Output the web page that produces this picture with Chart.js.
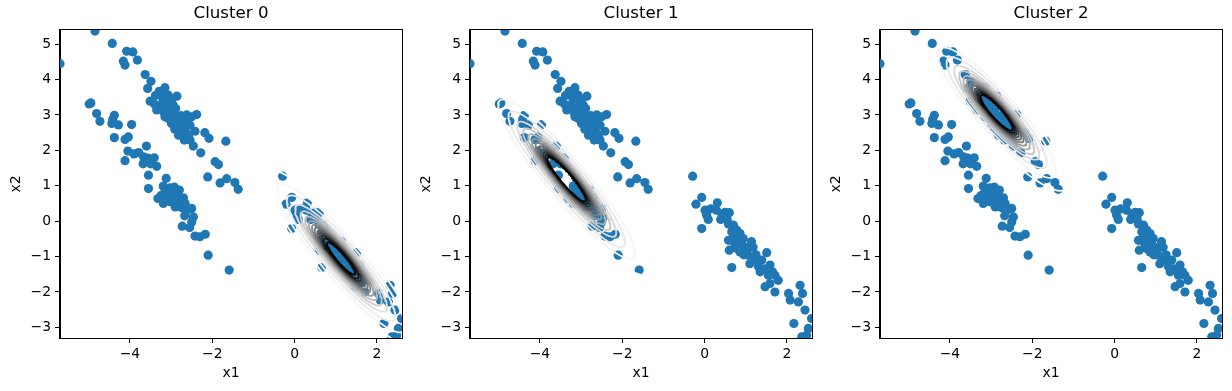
<!DOCTYPE html>
<html>
<head>
<meta charset="UTF-8">
<title>Cluster 0 / 1 / 2</title>
<script src="https://cdn.jsdelivr.net/npm/chart.js"></script>
<style>
    body { margin: 0; background: #fff; }
    .panel { position: absolute; top: 0; width: 410px; height: 391px; }
</style>
</head>
<body>
<div class="panel" style="left:0px"><canvas id="c0" width="410" height="391"></canvas></div>
<div class="panel" style="left:410px"><canvas id="c1" width="410" height="391"></canvas></div>
<div class="panel" style="left:820px"><canvas id="c2" width="410" height="391"></canvas></div>
<script>
const upperBand = [
    [-4.85,5.37],[-4.43,5.02],[-5.70,4.45],[-4.08,4.80],[-3.93,4.78],[-4.16,4.52],[-4.12,4.41],[-3.82,4.55],
    [-3.63,4.14],[-3.49,3.95],[-3.57,3.75],[-3.29,3.67],[-3.15,3.77],[-3.07,3.56],[-2.86,3.53],[-3.51,3.39],
    [-3.35,3.14],[-3.25,3.28],[-3.17,3.07],[-3.07,3.23],[-2.95,3.28],[-3.15,2.95],[-2.95,3.04],[-2.86,2.90],
    [-2.76,2.98],[-2.62,3.00],[-2.38,3.01],[-2.99,2.76],[-2.91,2.60],[-2.78,2.67],[-2.68,2.69],[-2.82,2.43],
    [-2.68,2.29],[-2.54,2.29],[-2.42,2.54],[-2.46,2.12],[-2.28,1.93],[-2.18,2.50],[-2.08,2.34],[-1.67,2.26],
    [-1.93,1.68],[-1.85,1.60],[-2.11,1.25],[-1.81,1.08],[-1.65,1.20],[-1.45,1.09],[-1.37,0.90],[-3.23,3.56],
    [-3.03,3.39],[-2.89,3.18],[-2.66,2.85],[-3.07,2.90],[-2.54,2.71],[-2.62,2.48],[-3.20,3.45],[-3.38,3.55],
    [-2.98,3.45],[-3.10,3.10],[-2.80,2.80],[-2.72,2.55],[-2.95,2.85],[-3.40,3.30],[-2.50,2.95],[-2.58,2.40]
];
const lowerBand = [
    [-4.99,3.31],[-4.95,3.34],[-4.81,3.04],[-4.73,2.82],[-4.38,2.99],[-4.42,2.87],[-4.44,2.76],[-4.28,2.72],
    [-3.96,2.73],[-4.38,2.36],[-4.12,2.31],[-4.04,2.38],[-4.05,1.98],[-3.90,1.90],[-3.79,1.94],[-3.60,2.12],
    [-4.12,1.71],[-3.67,1.82],[-3.56,1.78],[-3.41,1.79],[-3.68,1.62],[-3.50,1.62],[-3.35,1.55],[-3.55,1.30],
    [-3.55,0.92],[-3.12,1.21],[-3.19,0.99],[-3.03,0.94],[-2.92,0.96],[-2.80,0.88],[-3.32,0.64],[-3.19,0.50],
    [-3.07,0.69],[-2.95,0.64],[-2.88,0.48],[-2.70,0.66],[-2.66,0.50],[-2.74,0.38],[-2.50,0.36],[-2.67,0.15],
    [-2.46,0.12],[-2.50,-0.02],[-2.73,-0.14],[-2.55,-0.18],[-2.42,-0.42],[-2.30,-0.44],[-2.17,-0.37],[-2.10,-0.96],
    [-1.59,-1.38],[-2.99,0.78],[-2.82,0.59],[-3.03,0.55],[-2.62,0.31],[-2.90,0.40],[-3.15,0.83],[-3.08,0.80],
    [-2.86,0.72],[-3.25,0.72],[-2.95,0.52],[-3.10,0.60]
];
const rightBand = [
    [-0.29,1.27],[-0.07,0.67],[-0.21,0.48],[0.01,0.31],[0.05,0.17],[0.09,0.05],[-0.07,-0.21],[0.31,0.52],
    [0.29,0.31],[0.42,0.20],[0.50,0.25],[0.60,0.24],[0.39,0.05],[0.58,-0.08],[0.70,-0.11],[0.78,-0.25],
    [0.86,-0.35],[0.70,-0.44],[0.58,-0.54],[0.82,-0.54],[0.94,-0.49],[0.60,-0.82],[0.78,-0.77],[0.86,-0.87],
    [0.98,-0.74],[1.14,-0.58],[1.18,-0.74],[1.06,-0.96],[1.22,-1.10],[1.31,-1.29],[1.39,-1.10],[1.51,-0.89],
    [1.35,-1.43],[1.59,-1.24],[1.65,-1.43],[1.79,-1.67],[1.71,-1.53],[1.55,-1.53],[1.47,-1.85],[1.59,-1.76],
    [1.71,-2.00],[0.66,-1.31],[2.04,-2.04],[2.08,-2.23],[2.28,-2.28],[2.32,-1.81],[2.38,-2.04],[2.44,-2.51],
    [2.17,-2.89],[2.52,-3.03],[2.60,-2.75],[2.36,-3.27],[2.48,-3.22],[0.72,-0.20],[0.80,-0.40],[0.66,-0.30],
    [0.90,-0.62],[1.02,-0.85],[0.74,-0.65],[1.25,-0.95],[1.10,-1.20],[0.95,-0.95],[1.45,-1.35],[0.55,0.05],
    [0.15,0.35]
];

// fitted gaussian per cluster: mean and covariance [sxx, sxy, syy]
const clusterTitles = ['Cluster 0', 'Cluster 1', 'Cluster 2'];
const clusterMeans = [[1.13, -1.05], [-3.35, 1.185], [-2.865, 3.065]];
const clusterCovs = [[0.703, -0.869, 1.275], [0.811, -1.019, 1.483], [0.600, -0.692, 0.988]];
// contour levels as fraction of each cluster's peak density
const clusterLevels = [
    [0.085, 0.18, 0.29, 0.41, 0.50, 0.58, 0.645, 0.70, 0.745, 0.785, 0.82, 0.85, 0.88, 0.92],
    [0.085, 0.18, 0.29, 0.41, 0.50, 0.58, 0.645, 0.70, 0.745, 0.785, 0.82, 0.85, 0.875],
    [0.085, 0.18, 0.29, 0.41, 0.50, 0.58, 0.645, 0.70, 0.745, 0.785, 0.82, 0.85, 0.88]
];

const xRange = [-5.70, 2.61];
const yRange = [-3.30, 5.40];
const xTicks = [-4, -2, 0, 2];
const yTicks = [-3, -2, -1, 0, 1, 2, 3, 4, 5];

// matplotlib 'Greys' colormap
const greys = [255, 240, 217, 189, 150, 115, 82, 37, 0];
function greyColor(t) {
    const p = t * (greys.length - 1);
    const i = Math.min(Math.floor(p), greys.length - 2);
    const v = Math.round(greys[i] + (greys[i + 1] - greys[i]) * (p - i));
    return 'rgb(' + v + ',' + v + ',' + v + ')';
}

// contour of a 2d gaussian at a given fraction of its peak is an ellipse
function contourLine(mean, cov, frac) {
    const a = cov[0], b = cov[1], c = cov[2];
    const m = (a + c) / 2;
    const d = Math.sqrt(((a - c) / 2) ** 2 + b * b);
    const l1 = m + d, l2 = m - d;
    let ex = b, ey = l1 - a;
    const n = Math.hypot(ex, ey);
    ex /= n; ey /= n;
    const r = Math.sqrt(-2 * Math.log(frac));
    const pts = [];
    for (let k = 0; k <= 160; k++) {
        const t = k / 160 * 2 * Math.PI;
        const u = r * Math.sqrt(l1) * Math.cos(t);
        const v = r * Math.sqrt(l2) * Math.sin(t);
        pts.push({ x: mean[0] + u * ex - v * ey, y: mean[1] + u * ey + v * ex });
    }
    return pts;
}

const allPoints = upperBand.concat(lowerBand, rightBand).map(p => ({ x: p[0], y: p[1] }));
const fmt = v => String(v).replace('-', '\u2212');
const FONT = 'DejaVu Sans';

const framePlugin = {
    id: 'frame',
    afterDatasetsDraw(chart) {
        const a = chart.chartArea;
        const ctx = chart.ctx;
        ctx.save();
        ctx.strokeStyle = '#000';
        ctx.lineWidth = 1;
        ctx.strokeRect(Math.round(a.left) - 0.5, Math.round(a.top) - 0.5,
            Math.round(a.right - a.left) + 1, Math.round(a.bottom - a.top) + 1);
        ctx.restore();
    }
};

clusterTitles.forEach((title, ci) => {
    const levels = clusterLevels[ci];
    const datasets = [{
        data: allPoints,
        backgroundColor: '#1f77b4',
        borderWidth: 0,
        pointRadius: 4.6,
        order: 100,
        clip: 0
    }];
    levels.forEach((f, k) => {
        datasets.push({
            data: contourLine(clusterMeans[ci], clusterCovs[ci], f),
            showLine: true,
            pointRadius: 0,
            borderWidth: 1.8,
            borderColor: greyColor(k / (levels.length - 1)),
            fill: false,
            tension: 0,
            order: levels.length - k,
            clip: 0
        });
    });

    new Chart(document.getElementById('c' + ci), {
        type: 'scatter',
        data: { datasets: datasets },
        plugins: [framePlugin],
        options: {
            responsive: false,
            animation: false,
            events: [],
            layout: { padding: { left: 4, right: 8, top: 0, bottom: 5 } },
            plugins: {
                legend: { display: false },
                tooltip: { enabled: false },
                title: {
                    display: true,
                    text: title,
                    fullSize: false,
                    color: '#000',
                    font: { family: FONT, size: 16.67, weight: 'normal' },
                    padding: { top: 4, bottom: 6 }
                }
            },
            scales: {
                x: {
                    type: 'linear',
                    min: xRange[0],
                    max: xRange[1],
                    afterBuildTicks: s => { s.ticks = xTicks.map(v => ({ value: v })); },
                    afterFit: s => { s.height = 48; },
                    ticks: {
                        callback: v => fmt(v),
                        color: '#000',
                        font: { family: FONT, size: 13.9 },
                        padding: 3,
                        maxRotation: 0
                    },
                    grid: { drawOnChartArea: false, drawTicks: true, tickLength: 5, tickColor: '#000', tickWidth: 1 },
                    border: { display: true, color: '#000', width: 1 },
                    title: {
                        display: true,
                        text: 'x1',
                        color: '#000',
                        font: { family: FONT, size: 13.9 },
                        padding: { top: 0, bottom: 4 }
                    }
                },
                y: {
                    type: 'linear',
                    min: yRange[0],
                    max: yRange[1],
                    afterBuildTicks: s => { s.ticks = yTicks.map(v => ({ value: v })); },
                    afterFit: s => { s.width = 56; },
                    ticks: {
                        callback: v => fmt(v),
                        color: '#000',
                        font: { family: FONT, size: 13.9 },
                        padding: 4
                    },
                    grid: { drawOnChartArea: false, drawTicks: true, tickLength: 5, tickColor: '#000', tickWidth: 1 },
                    border: { display: true, color: '#000', width: 1 },
                    title: {
                        display: true,
                        text: 'x2',
                        color: '#000',
                        font: { family: FONT, size: 13.9 },
                        padding: { top: 4, bottom: 0 }
                    }
                }
            }
        }
    });
});
</script>
</body>
</html>
